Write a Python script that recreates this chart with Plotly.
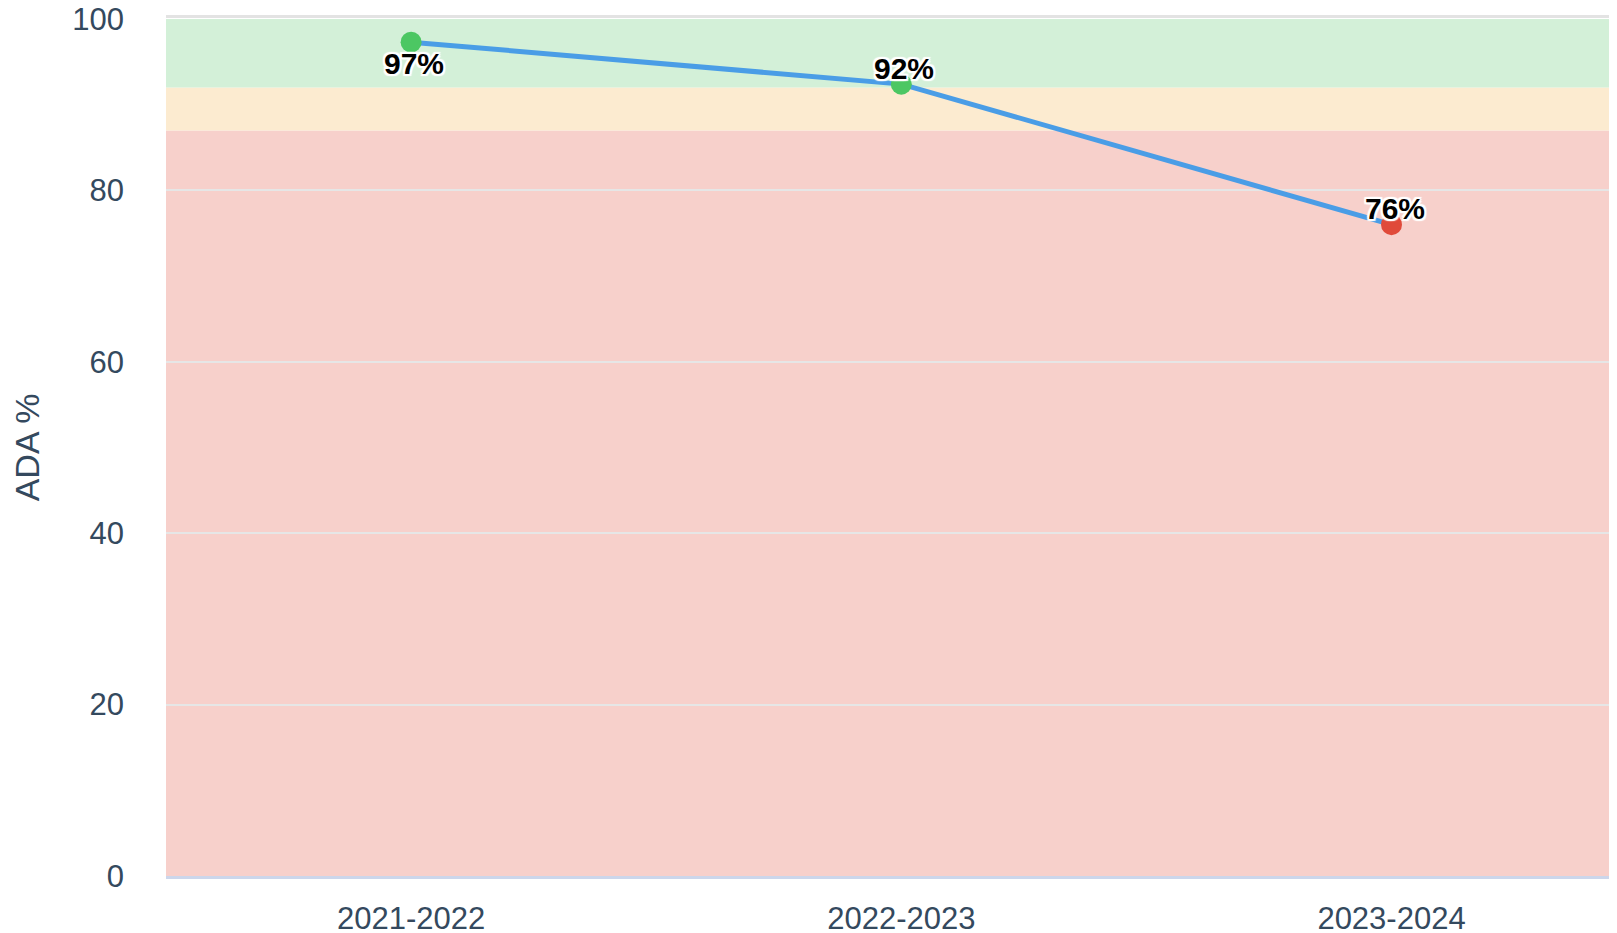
import plotly.graph_objects as go

# ---- data ----
categories = ["2021-2022", "2022-2023", "2023-2024"]
ada_values = [97.3, 92.4, 76.0]
marker_colors = ["#4cc763", "#4cc763", "#e04a3a"]
y_ticks = [0, 20, 40, 60, 80, 100]

# target bands: (low, high, colour)
band_lows = [0, 87, 92]
band_highs = [87, 92, 100]
band_colors = ["#f7d0cb", "#fcebd0", "#d3f0d8"]

FONT = "Liberation Sans, Arial, Helvetica, sans-serif"
TICK_COLOR = "#34495e"

fig = go.Figure()

fig.add_trace(go.Scatter(
    x=categories,
    y=ada_values,
    mode="lines+markers",
    line=dict(color="#4a9de6", width=5),
    marker=dict(size=21, color=marker_colors, line=dict(width=0)),
    hoverinfo="x+y",
    showlegend=False,
))

for lo, hi, col in zip(band_lows, band_highs, band_colors):
    fig.add_shape(type="rect", xref="paper", yref="y", x0=0, x1=1, y0=lo, y1=hi,
                  fillcolor=col, line=dict(width=0), layer="below")

# top grid line just above the plot area
fig.add_shape(type="line", xref="paper", yref="paper", x0=0, x1=1,
              ysizemode="pixel", yanchor=1, y0=2.5, y1=2.5,
              line=dict(color="#e3e3e3", width=3), layer="above")

# data labels (offsets are styling only)
label_shift = [-21, 16, 16]
outline = ("-2px -2px 1px #fff, 2px -2px 1px #fff, -2px 2px 1px #fff, 2px 2px 1px #fff, "
           "0 -2px 1px #fff, 0 2px 1px #fff, -2px 0 1px #fff, 2px 0 1px #fff")
for cat, val, ys in zip(categories, ada_values, label_shift):
    fig.add_annotation(
        x=cat, y=val, text=f"{val:.0f}%", showarrow=False,
        xshift=3, yshift=ys,
        font=dict(family=FONT, size=30, color="#000000", weight="bold", shadow=outline),
    )

fig.update_layout(
    width=1609, height=925,
    margin=dict(l=158, r=0, t=11, b=57, autoexpand=False),
    paper_bgcolor="#ffffff",
    plot_bgcolor="#ffffff",
    font=dict(family=FONT, color=TICK_COLOR),
    xaxis=dict(
        type="category",
        range=[-0.5, 2.46],
        showgrid=False,
        showline=True, linecolor="#ccd6eb", linewidth=3,
        ticks="",
        tickfont=dict(size=31, color=TICK_COLOR, family=FONT),
        ticklabelstandoff=13,
        zeroline=False,
        automargin=False,
    ),
    yaxis=dict(
        range=[0, 100],
        tickvals=y_ticks,
        showgrid=True, gridcolor="#e6e6e6", gridwidth=2,
        showline=False, zeroline=False,
        ticks="",
        tickfont=dict(size=31, color=TICK_COLOR, family=FONT),
        ticklabelstandoff=41,
        ticklabeloverflow="allow",
        title=dict(text="ADA %", font=dict(size=34, color=TICK_COLOR, family=FONT), standoff=30),
        automargin=False,
    ),
)

fig.write_html("out.html")
